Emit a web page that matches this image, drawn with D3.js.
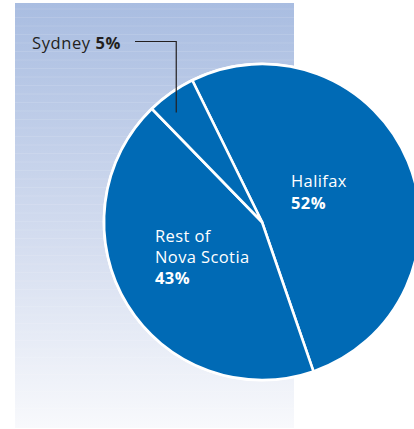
<!DOCTYPE html>
<html>
<head>
<meta charset="utf-8">
<script src="https://cdn.jsdelivr.net/npm/d3@7"></script>
<style>
  html, body { margin: 0; padding: 0; background: #fff; }
  svg { display: block; }
</style>
</head>
<body>
<svg id="chart" width="414" height="429"></svg>
<script>
// Share of total by region
const regions = ["Halifax", "Rest of Nova Scotia", "Sydney"];
const shares = [52, 43, 5];
const labelLines = [["Halifax"], ["Rest of", "Nova Scotia"], ["Sydney"]];
const valueLabels = ["52%", "43%", "5%"];

const svg = d3.select("#chart");

// Backdrop panel with a vertical blue-to-white gradient
const defs = svg.append("defs");
const grad = defs.append("linearGradient")
  .attr("id", "panelGrad").attr("x1", 0).attr("y1", 0).attr("x2", 0).attr("y2", 1);
grad.append("stop").attr("offset", "0%").attr("stop-color", "#a9bde1");
grad.append("stop").attr("offset", "55%").attr("stop-color", "#d3dcef");
grad.append("stop").attr("offset", "100%").attr("stop-color", "#f8f9fc");

svg.append("rect")
  .attr("x", 15).attr("y", 3).attr("width", 279).attr("height", 425)
  .attr("fill", "url(#panelGrad)");

// faint horizontal banding on the panel
const bands = d3.range(6, 425, 8.5);
svg.append("g").selectAll("line").data(bands).join("line")
  .attr("x1", 15).attr("x2", 294)
  .attr("y1", d => 3 + d).attr("y2", d => 3 + d)
  .attr("stroke", "#ffffff").attr("stroke-opacity", 0.12).attr("stroke-width", 1);

// Pie
const cx = 262, cy = 222, R = 158;
const pie = d3.pie().sort(null)
  .startAngle(-26.2 * Math.PI / 180)
  .endAngle((360 - 26.2) * Math.PI / 180);
const arcs = pie(shares);
const arc = d3.arc().innerRadius(0).outerRadius(R);

const g = svg.append("g").attr("transform", `translate(${cx},${cy})`);

g.append("circle").attr("r", R + 1.5).attr("fill", "#ffffff");

g.selectAll("path").data(arcs).join("path")
  .attr("d", arc)
  .attr("fill", "#006ab5")
  .attr("stroke", "#ffffff")
  .attr("stroke-width", 2.6)
  .attr("stroke-linejoin", "round");

// Labels inside the large slices, one text element per line
const font = "'Open Sans', 'Noto Sans', sans-serif";
const inside = [
  { i: 0, x: 291, y: 187 },
  { i: 1, x: 155, y: 242 }
];
inside.forEach(p => {
  const lines = labelLines[p.i].map(t => ({ t, bold: false }))
    .concat([{ t: valueLabels[p.i], bold: true }]);
  let y = p.y;
  lines.forEach((ln, k) => {
    if (k > 0) y += ln.bold ? 21.5 : 20.5;
    svg.append("text")
      .attr("x", p.x).attr("y", y)
      .attr("fill", "#ffffff")
      .attr("font-family", font).attr("font-size", 16.5)
      .attr("letter-spacing", 0.4)
      .attr("font-weight", ln.bold ? "bold" : "normal")
      .text(ln.t);
  });
});

// Sydney: callout outside the pie with a leader line
const syd = arcs[2];
const a = syd.startAngle + 0.34 * (syd.endAngle - syd.startAngle);
const anchorX = cx + Math.sin(a) * (R * 0.88);
const anchorY = cy - Math.cos(a) * (R * 0.88);
const elbowY = 41.5;
svg.append("path")
  .attr("d", `M${anchorX},${anchorY} L${anchorX},${elbowY} L135,${elbowY}`)
  .attr("fill", "none").attr("stroke", "#231f20").attr("stroke-width", 1.2);

const st = svg.append("text")
  .attr("x", 32).attr("y", 48.5)
  .attr("fill", "#231f20")
  .attr("font-family", font).attr("font-size", 16.5)
  .attr("letter-spacing", 0.6);
st.append("tspan").text(labelLines[2][0] + " ");
st.append("tspan").attr("font-weight", "bold").text(valueLabels[2]);
</script>
</body>
</html>
